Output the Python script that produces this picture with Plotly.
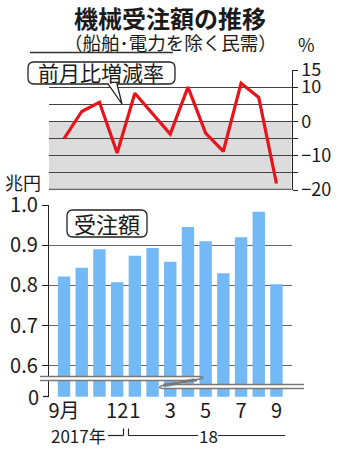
import plotly.graph_objects as go

W, H = 344, 450

# ---- data ----
months = list(range(13))  # Sep 2017 .. Sep 2018
tick_pos = [0, 3, 4, 6, 8, 10, 12]
tick_text = ["9月", "12", "1", "3", "5", "7", "9"]
change_pct = [-5.0, 2.9, 5.6, -9.2, 8.2, 2.1, -3.7, 10.0, -3.4, -8.7, 11.1, 7.0, -18.1]
orders = [0.822, 0.844, 0.890, 0.808, 0.874, 0.893, 0.859, 0.945, 0.910, 0.830, 0.920, 0.983, 0.803]
pct_ticks = [15, 10, 5, 0, -5, -10, -15, -20]
pct_labels = ["15", "10", "", "0", "", "−10", "", "−20"]
ord_ticks = [0.6, 0.7, 0.8, 0.9, 1.0]
ord_labels = ["0.6", "0.7", "0.8", "0.9", "1.0"]

FONT = "Noto Sans CJK JP"
TXT = "#1a1a1a"


def px(x):
    return x / W


def py(y):
    return 1 - y / H


XR = [-0.85, 12.85]
XD = [px(49), px(291.5)]
BOT0 = 1.0 - (396.7 - 205) / 402.0  # value shown as "0" at the broken baseline

fig = go.Figure()
fig.add_trace(go.Bar(x=months, y=orders, marker=dict(color="#73b9f5", line=dict(width=0)),
                     width=0.7, xaxis="x", yaxis="y", hoverinfo="skip"))
fig.add_trace(go.Scatter(x=months, y=change_pct, mode="lines",
                         line=dict(color="#e8141c", width=3.2), xaxis="x2", yaxis="y2",
                         hoverinfo="skip"))

shapes = []
# gray negative zone in top panel
shapes.append(dict(type="rect", xref="x2 domain", yref="y2", x0=0, x1=1, y0=-20, y1=0,
                   fillcolor="#dcdcdc", line=dict(width=0), layer="below"))
# bottom line of top panel
shapes.append(dict(type="line", xref="x2 domain", yref="y2", x0=0, x1=1, y0=-20, y1=-20,
                   line=dict(color="#666", width=2.5)))
# rule under subtitle
shapes.append(dict(type="line", xref="paper", yref="paper", x0=px(30), x1=px(173),
                   y0=py(52.5), y1=py(52.5), line=dict(color="#333", width=1.5)))


def P(x, y):
    return f"{px(x):.5f},{py(y):.5f}"


def rounded_box(x0, y0, x1, y1, r, tail=None):
    d = f"M {P(x0 + r, y0)} L {P(x1 - r, y0)} Q {P(x1, y0)} {P(x1, y0 + r)} "
    d += f"L {P(x1, y1 - r)} Q {P(x1, y1)} {P(x1 - r, y1)} "
    if tail:
        (ta, tb, tx, ty) = tail
        d += f"L {P(tb, y1)} L {P(tx, ty)} L {P(ta, y1)} "
    d += f"L {P(x0 + r, y1)} Q {P(x0, y1)} {P(x0, y1 - r)} "
    d += f"L {P(x0, y0 + r)} Q {P(x0, y0)} {P(x0 + r, y0)} Z"
    return dict(type="path", xref="paper", yref="paper", path=d,
                fillcolor="white", line=dict(color="#222", width=1.3), layer="above")


shapes.append(rounded_box(28, 62, 175, 84, 6, tail=(108, 117, 122, 104)))
shapes.append(rounded_box(67, 210, 147, 237, 6))

# axis break (white Z band)
band = (f"M {P(40, 376.5)} L {P(201, 376.5)} L {P(163, 384.5)} L {P(304, 384.5)} "
        f"L {P(304, 388.5)} L {P(160, 388.5)} L {P(198, 380.5)} L {P(40, 380.5)} Z")
shapes.append(dict(type="path", xref="paper", yref="paper", path=band,
                   fillcolor="white", line=dict(width=0), layer="above"))
shapes.append(dict(type="path", xref="paper", yref="paper",
                   path=f"M {P(40, 376.5)} L {P(201, 376.5)} Q {P(206, 378)} {P(200, 379)} L {P(163, 384.5)} L {P(304, 384.5)}",
                   line=dict(color="#777", width=1.3), layer="above"))
shapes.append(dict(type="path", xref="paper", yref="paper",
                   path=f"M {P(40, 380.5)} L {P(197, 380.5)} L {P(161, 386)} Q {P(157, 388)} {P(163, 388.5)} L {P(304, 388.5)}",
                   line=dict(color="#777", width=1.3), layer="above"))
# bottom tick at "0"
shapes.append(dict(type="line", xref="paper", yref="paper", x0=px(43), x1=px(49),
                   y0=py(396.5), y1=py(396.5), line=dict(color="#222", width=1.3)))

# year bracket
yl = 435.5
for seg in [(108, 123.5), (128.5, 198), (218, 285)]:
    shapes.append(dict(type="line", xref="paper", yref="paper", x0=px(seg[0]), x1=px(seg[1]),
                       y0=py(yl), y1=py(yl), line=dict(color="#222", width=1.2)))
for xv in (123.5, 128.5):
    shapes.append(dict(type="line", xref="paper", yref="paper", x0=px(xv), x1=px(xv),
                       y0=py(yl), y1=py(428.5), line=dict(color="#222", width=1.2)))

ann = []


def text(x, y, s, size, bold=False, xanchor="center"):
    ann.append(dict(x=px(x), y=py(y), xref="paper", yref="paper", text=f"<b>{s}</b>" if bold else s,
                    showarrow=False, xanchor=xanchor, yanchor="middle",
                    font=dict(family=FONT, size=size, color=TXT)))


text(170, 17, "機械受注額の推移", 24, bold=True)
text(170, 42, "（船舶･電力を除く民需）", 18.5)
text(306, 44, "%", 18)
text(101, 72.5, "前月比増減率", 21)
text(107, 223, "受注額", 22)
text(23, 182, "兆円", 18)
text(41, 396, "0", 20, xanchor="right")
text(78, 435, "2017年", 17)
text(208, 435, "18", 17)

fig.update_layout(
    width=W, height=H, margin=dict(l=0, r=0, t=0, b=0, autoexpand=False),
    paper_bgcolor="white", plot_bgcolor="rgba(0,0,0,0)",
    showlegend=False, bargap=0.3,
    font=dict(family=FONT, color=TXT),
    xaxis=dict(domain=XD, range=XR, anchor="y", tickmode="array", tickvals=tick_pos,
               ticktext=tick_text, ticks="", showgrid=False, zeroline=False, showline=False,
               tickangle=0, automargin=False,
               tickfont=dict(family=FONT, size=20, color=TXT)),
    yaxis=dict(domain=[py(396.7), py(205)], range=[BOT0, 1.0], anchor="x", side="left",
               tickmode="array", tickvals=ord_ticks, ticktext=ord_labels,
               ticks="outside", ticklen=6, tickcolor="#222", tickwidth=1.3,
               showgrid=True, gridcolor="#666", gridwidth=1, automargin=False,
               showline=True, linecolor="#222", linewidth=1.3, zeroline=False,
               tickfont=dict(family=FONT, size=20, color=TXT)),
    xaxis2=dict(domain=XD, range=XR, anchor="y2", visible=False, automargin=False),
    yaxis2=dict(domain=[py(190), py(70)], range=[-20, 15], anchor="x2", side="right",
                tickmode="array", tickvals=pct_ticks, ticktext=pct_labels,
                ticks="outside", ticklen=5, tickcolor="#222", tickwidth=1.3,
                showgrid=True, gridcolor="#444", gridwidth=1, automargin=False,
                showline=True, linecolor="#222", linewidth=1.3, zeroline=False,
                tickfont=dict(family=FONT, size=18, color=TXT)),
    shapes=shapes, annotations=ann,
)

fig.write_html("out.html")
